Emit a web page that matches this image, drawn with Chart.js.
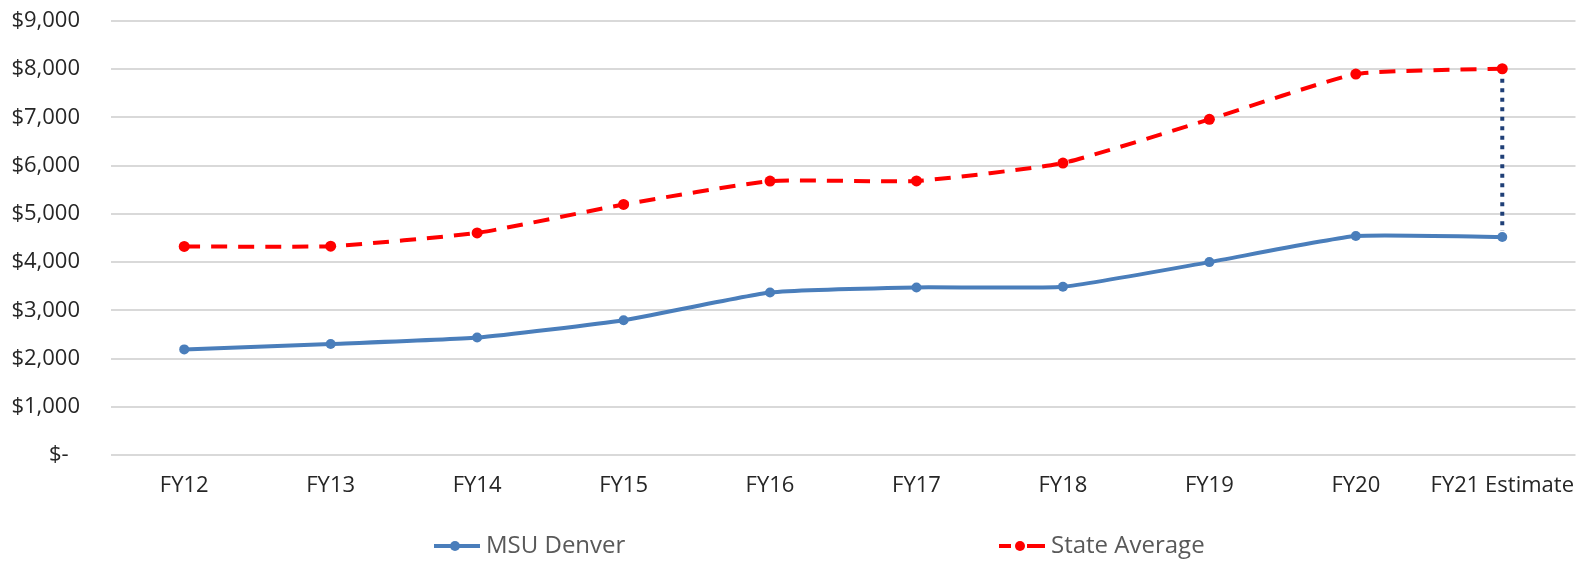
<!DOCTYPE html>
<html lang="en">
<head>
    <meta charset="UTF-8">
    <title>MSU Denver vs State Average</title>
    <script src="https://cdn.jsdelivr.net/npm/chart.js"></script>
    <style>
        html, body { margin: 0; padding: 0; background: #fff; }
        .chart-container { width: 1581px; height: 565px; position: relative; }
    </style>
</head>
<body>
    <div class="chart-container">
        <canvas id="tuitionChart"></canvas>
    </div>

    <script>
        // Data
        const years = ['FY12', 'FY13', 'FY14', 'FY15', 'FY16', 'FY17', 'FY18', 'FY19', 'FY20', 'FY21 Estimate'];
        const msuDenver = [2190, 2300, 2435, 2795, 3370, 3475, 3490, 4000, 4540, 4520];
        const stateAverage = [4325, 4330, 4605, 5195, 5680, 5683, 6055, 6960, 7900, 8010];
        const yTicks = [0, 1000, 2000, 3000, 4000, 5000, 6000, 7000, 8000, 9000];

        const blue = '#4a7ebb';
        const red = '#ff0000';
        const navy = '#1f3f77';
        const font = "'Open Sans', sans-serif";

        // dotted connector between the two FY21 points
        const gapLine = {
            id: 'gapLine',
            afterDatasetsDraw(chart) {
                const x = chart.scales.x.getPixelForValue(years.length - 1);
                const yTop = chart.scales.y.getPixelForValue(stateAverage[stateAverage.length - 1]);
                const yBot = chart.scales.y.getPixelForValue(msuDenver[msuDenver.length - 1]);
                const ctx = chart.ctx;
                ctx.save();
                ctx.strokeStyle = navy;
                ctx.lineWidth = 4;
                ctx.setLineDash([4, 5.5]);
                ctx.beginPath();
                ctx.moveTo(x, yTop + 10);
                ctx.lineTo(x, yBot - 6);
                ctx.stroke();
                ctx.restore();
            }
        };

        // bottom legend, spread out like the original
        const wideLegend = {
            id: 'wideLegend',
            afterDraw(chart) {
                const ctx = chart.ctx;
                const y = 546;
                const spots = [434, 999];
                ctx.save();
                ctx.font = "24px 'Open Sans', sans-serif";
                ctx.textBaseline = 'middle';
                chart.data.datasets.forEach((ds, i) => {
                    const x0 = spots[i];
                    ctx.strokeStyle = ds.borderColor;
                    ctx.lineWidth = 4;
                    ctx.beginPath();
                    if (i === 1) {
                        ctx.moveTo(x0, y); ctx.lineTo(x0 + 12, y);
                        ctx.moveTo(x0 + 28, y); ctx.lineTo(x0 + 46, y);
                    } else {
                        ctx.moveTo(x0, y); ctx.lineTo(x0 + 46, y);
                    }
                    ctx.stroke();
                    ctx.fillStyle = ds.borderColor;
                    ctx.beginPath();
                    ctx.arc(x0 + 21, y, 5, 0, Math.PI * 2);
                    ctx.fill();
                    ctx.fillStyle = '#595959';
                    ctx.fillText(ds.label, x0 + 52, y);
                });
                ctx.restore();
            }
        };

        const ctx = document.getElementById('tuitionChart').getContext('2d');
        new Chart(ctx, {
            type: 'line',
            data: {
                labels: years,
                datasets: [{
                    label: 'MSU Denver',
                    data: msuDenver,
                    borderColor: blue,
                    backgroundColor: blue,
                    borderWidth: 4,
                    pointRadius: 5,
                    pointBorderWidth: 0,
                    tension: 0.15
                }, {
                    label: 'State Average',
                    data: stateAverage,
                    borderColor: red,
                    backgroundColor: red,
                    borderWidth: 4,
                    borderDash: [16, 11],
                    pointRadius: 5.5,
                    pointBorderWidth: 0,
                    tension: 0.15
                }]
            },
            options: {
                responsive: true,
                maintainAspectRatio: false,
                animation: false,
                layout: { padding: { top: 21, left: 0, right: 3, bottom: 0 } },
                scales: {
                    x: {
                        offset: true,
                        afterFit: axis => {
                            axis.height = 110;
                            axis.paddingLeft = 0;
                            axis.paddingRight = 0;
                        },
                        grid: { display: false, drawTicks: false },
                        border: { display: false },
                        ticks: {
                            padding: 18,
                            color: '#262626',
                            font: { family: font, size: 22 },
                            maxRotation: 0,
                            autoSkip: false
                        }
                    },
                    y: {
                        min: 0,
                        max: 9000,
                        afterFit: axis => {
                            axis.width = 111;
                            axis.paddingTop = 0;
                            axis.paddingBottom = 0;
                        },
                        afterBuildTicks: axis => { axis.ticks = yTicks.map(v => ({ value: v })); },
                        grid: { color: '#d9d9d9', lineWidth: 2, drawTicks: false },
                        border: { display: false },
                        ticks: {
                            padding: 31,
                            autoSkip: false,
                            color: '#262626',
                            font: { family: font, size: 22 },
                            callback: v => v === 0 ? '$-  ' : '$' + v.toLocaleString('en-US')
                        }
                    }
                },
                plugins: {
                    legend: { display: false },
                    tooltip: { enabled: false }
                }
            },
            plugins: [gapLine, wideLegend]
        });
    </script>
</body>
</html>
